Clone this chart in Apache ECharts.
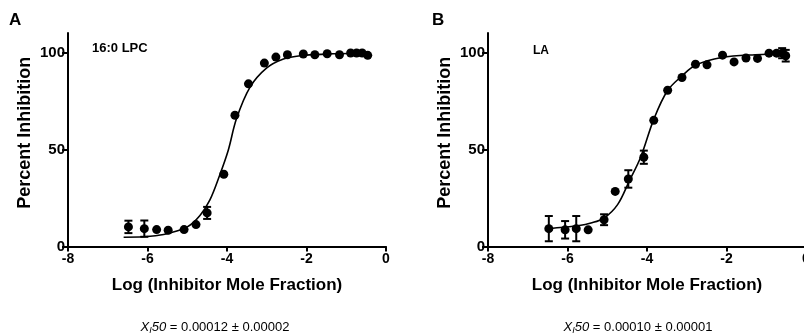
<!DOCTYPE html>
<html>
<head>
<meta charset="utf-8">
<script src="https://cdn.jsdelivr.net/npm/echarts@6/dist/echarts.min.js"></script>
<style>
  html, body { margin: 0; padding: 0; background: #fff; }
  #chart { width: 804px; height: 335px; }
</style>
</head>
<body>
<div id="chart"></div>
<script>
// Panel A: 16:0 LPC
const lpcX = [-6.48, -6.08, -5.77, -5.48, -5.08, -4.78, -4.50, -4.08, -3.80, -3.46, -3.06, -2.77, -2.48, -2.08, -1.79, -1.48, -1.17, -0.89, -0.74, -0.60, -0.46];
const lpcY = [10.1, 9.2, 8.7, 8.4, 8.7, 11.3, 17.3, 37.2, 67.6, 83.8, 94.5, 97.6, 98.8, 99.2, 98.8, 99.3, 98.8, 99.7, 99.7, 99.7, 98.5];
const lpcErr = [3.2, 4.2, 0, 0, 0, 0, 3.1, 0, 0, 0, 0, 0, 0, 0, 0, 0, 0, 0, 0, 0, 0];
const lpcFitX = [-6.6, -6.1, -5.8, -5.43, -5.0, -4.68, -4.43, -4.18, -3.97, -3.76, -3.42, -3.0, -2.58, -2.16, -1.33, -0.45];
const lpcFitY = [4.8, 5.0, 5.5, 7.0, 10.1, 16.0, 24.0, 37.0, 49.5, 65.9, 82.1, 92.0, 96.6, 98.3, 99.3, 99.6];

// Panel B: LA
const laX = [-6.47, -6.06, -5.78, -5.48, -5.08, -4.80, -4.47, -4.08, -3.83, -3.48, -3.12, -2.78, -2.49, -2.10, -1.81, -1.51, -1.22, -0.93, -0.74, -0.60, -0.51];
const laY = [9.2, 8.6, 9.2, 8.6, 13.8, 28.4, 34.8, 46.0, 65.0, 80.5, 87.1, 93.9, 93.6, 98.6, 95.1, 97.1, 96.9, 99.6, 99.6, 99.6, 98.3];
const laErr = [6.5, 4.5, 6.5, 0, 2.8, 0, 4.5, 3.4, 0, 0, 0, 0, 0, 0, 0, 0, 0, 0, 0, 2.6, 3.0];
const laFitX = [-6.49, -6.1, -5.74, -5.41, -5.08, -4.74, -4.45, -4.16, -3.83, -3.49, -3.12, -2.78, -2.12, -1.28, -0.45];
const laFitY = [9.2, 9.9, 10.7, 12.1, 14.7, 21.6, 33.6, 46.0, 65.5, 80.1, 87.9, 93.4, 97.4, 98.8, 99.2];

const yTicks = [0, 50, 100];
const xTitle = 'Log (Inhibitor Mole Fraction)';
const yTitle = 'Percent Inhibition';
const panels = ['A', 'B'];
const compounds = ['16:0 LPC', 'LA'];
const x50Values = ['0.00012 ± 0.00002', '0.00010 ± 0.00001'];

const chart = echarts.init(document.getElementById('chart'));

const zip = (xs, ys) => xs.map((x, i) => [x, ys[i]]);
const zip3 = (xs, ys, es) => xs.map((x, i) => [x, ys[i], es[i]]).filter(d => d[2] > 0);

function errorBars(params, api) {
  const x = api.value(0), y = api.value(1), e = api.value(2);
  const top = api.coord([x, y + e]);
  const bot = api.coord([x, y - e]);
  const w = 4;
  const style = { stroke: '#000', lineWidth: 2 };
  return {
    type: 'group',
    children: [
      { type: 'line', shape: { x1: top[0], y1: top[1], x2: bot[0], y2: bot[1] }, style },
      { type: 'line', shape: { x1: top[0] - w, y1: top[1], x2: top[0] + w, y2: top[1] }, style },
      { type: 'line', shape: { x1: bot[0] - w, y1: bot[1], x2: bot[0] + w, y2: bot[1] }, style }
    ]
  };
}

const axisBlack = { color: '#000', width: 2 };

function xAx(i) {
  return {
    gridIndex: i, type: 'value', min: -8, max: 0, interval: 2,
    axisLine: { onZero: false, lineStyle: axisBlack },
    axisTick: { length: 5, lineStyle: axisBlack },
    axisLabel: { color: '#000', fontWeight: 'bold', fontSize: 14, margin: 6, fontFamily: 'Liberation Sans' },
    splitLine: { show: false },
    name: xTitle, nameLocation: 'middle', nameGap: 30,
    nameTextStyle: { color: '#000', fontWeight: 'bold', fontSize: 17, fontFamily: 'Liberation Sans' }
  };
}
function yAx(i) {
  return {
    gridIndex: i, type: 'value', min: 0, max: 110,
    axisLine: { show: true, onZero: false, lineStyle: axisBlack },
    axisTick: { show: true, length: 6, lineStyle: axisBlack, customValues: yTicks },
    axisLabel: { color: '#000', fontWeight: 'bold', fontSize: 15, margin: 3, fontFamily: 'Liberation Sans', customValues: yTicks },
    splitLine: { show: false },
    name: yTitle, nameLocation: 'middle', nameGap: 34,
    nameTextStyle: { color: '#000', fontWeight: 'bold', fontSize: 18, fontFamily: 'Liberation Sans', padding: [0, 0, 0, 14] }
  };
}

const sets = [
  { pts: zip(lpcX, lpcY), err: zip3(lpcX, lpcY, lpcErr), fit: zip(lpcFitX, lpcFitY) },
  { pts: zip(laX, laY), err: zip3(laX, laY, laErr), fit: zip(laFitX, laFitY) }
];

const series = [];
sets.forEach((s, i) => {
  series.push({
    type: 'line', xAxisIndex: i, yAxisIndex: i, data: s.fit, showSymbol: false,
    smooth: 0.35, lineStyle: { color: '#000', width: 1.6 }, z: 2, silent: true
  });
  series.push({
    type: 'custom', xAxisIndex: i, yAxisIndex: i, data: s.err, renderItem: errorBars, z: 3, silent: true
  });
  series.push({
    type: 'scatter', xAxisIndex: i, yAxisIndex: i, data: s.pts, symbol: 'circle', symbolSize: 9,
    itemStyle: { color: '#000', opacity: 1 }, z: 4, silent: true
  });
});

const gridLefts = [68, 488];
const graphic = [];
panels.forEach((p, i) => {
  graphic.push({ type: 'text', x: i ? 432 : 9, y: 12, style: { text: p, font: 'bold 17px "Liberation Sans"', fill: '#000' } });
  graphic.push({
    type: 'text', x: i ? 533 : 92, y: i ? 45 : 42,
    style: { text: compounds[i], font: 'bold ' + (i ? 12 : 13) + 'px "Liberation Sans"', fill: '#000' }
  });
  graphic.push({
    type: 'text', x: i ? 638 : 215, y: 327,
    style: {
      text: '{i|X}{s|I}{i|50} = ' + x50Values[i],
      fill: '#000', align: 'center', verticalAlign: 'middle',
      font: '13px "Liberation Sans"',
      rich: {
        i: { fontStyle: 'italic', fontSize: 13, fontFamily: 'Liberation Sans' },
        s: { fontStyle: 'italic', fontSize: 9, fontFamily: 'Liberation Sans', padding: [6, 0, 0, 0] }
      }
    }
  });
});

chart.setOption({
  animation: false,
  backgroundColor: '#fff',
  grid: gridLefts.map(l => ({ left: l, width: 318, top: 33, height: 213.5, outerBoundsMode: 'none', containLabel: false })),
  xAxis: [xAx(0), xAx(1)],
  yAxis: [yAx(0), yAx(1)],
  series,
  graphic
});
</script>
</body>
</html>
